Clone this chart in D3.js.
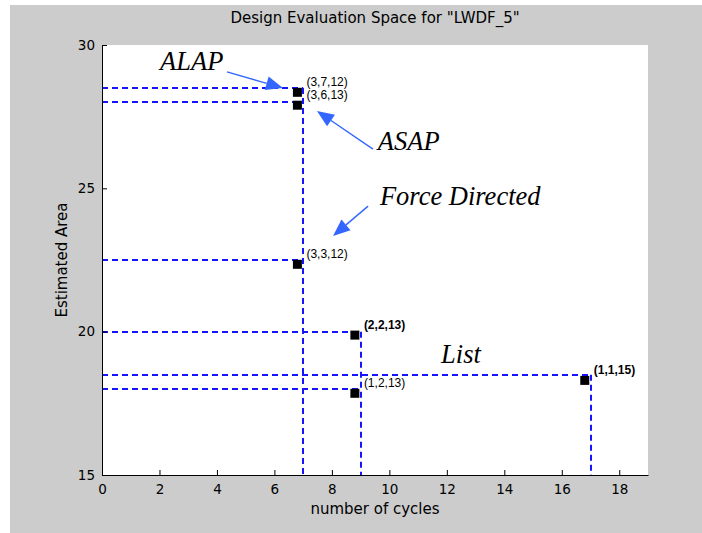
<!DOCTYPE html>
<html>
<head>
<meta charset="utf-8">
<script src="https://cdn.jsdelivr.net/npm/d3@7"></script>
<style>
  html, body { margin: 0; padding: 0; background: #ffffff; }
  svg { display: block; }
  text { font-family: "DejaVu Sans", "Liberation Sans", Arial, sans-serif; }
  .note { font-family: "Liberation Serif", "DejaVu Serif", serif; font-style: italic; }
  .ptlabel { font-family: "Liberation Sans", Arial, sans-serif; }
</style>
</head>
<body>
<svg id="chart" width="702" height="533"></svg>
<script>
// Design points: cycles vs. estimated area, with (adders, multipliers, registers) labels
const cycles = [6.8, 6.8, 6.8, 8.8, 8.8, 16.8];
const areas  = [28.35, 27.9, 22.35, 19.88, 17.85, 18.3];
const pointLabels = ["(3,7,12)", "(3,6,13)", "(3,3,12)", "(2,2,13)", "(1,2,13)", "(1,1,15)"];
const pointBold   = [false, false, false, true, false, true];

// Dashed guide lines: horizontal [area, cycles reached], vertical [cycles, area reached]
const hGuideArea   = [28.5, 28, 22.5, 20, 18.5, 18];
const hGuideCycles = [7, 7, 7, 9, 17, 9];
const vGuideCycles = [7, 9, 17];
const vGuideArea   = [28.5, 20, 18.5];

// Scheduler names and their arrows (data units)
const noteText = ["ALAP", "ASAP", "Force Directed", "List"];
const noteX    = [2.02, 9.6, 9.67, 11.8];
const noteY    = [29.13, 26.34, 24.42, 18.91];
const arrowFromX = [4.35, 9.43, 9.26];
const arrowFromY = [29.06, 26.37, 24.38];
const arrowToX   = [6.3, 7.48, 8.04];
const arrowToY   = [28.5, 27.7, 23.34];

const xTicks = [0, 2, 4, 6, 8, 10, 12, 14, 16, 18];
const yTicks = [15, 20, 25, 30];

const svg = d3.select("#chart");
const W = 702, H = 533;
const plot = { left: 102, right: 648, top: 45, bottom: 475 };

// Figure background
svg.append("rect").attr("x", 10).attr("y", 5).attr("width", W - 10).attr("height", H - 5)
  .attr("fill", "#cccccc");
svg.append("rect").attr("x", plot.left).attr("y", plot.top)
  .attr("width", plot.right - plot.left).attr("height", plot.bottom - plot.top)
  .attr("fill", "#ffffff");

const x = d3.scaleLinear().domain([0, 19]).range([plot.left, plot.right]);
const y = d3.scaleLinear().domain([15, 30]).range([plot.bottom, plot.top]);

// Guides
const guides = svg.append("g").attr("stroke", "#1414ff").attr("fill", "none")
  .attr("stroke-dasharray", "6,4").attr("stroke-width", 1.8);
hGuideArea.forEach((a, i) => {
  guides.append("line").attr("x1", x(0)).attr("x2", x(hGuideCycles[i]))
    .attr("y1", Math.round(y(a))).attr("y2", Math.round(y(a)));
});
vGuideCycles.forEach((c, i) => {
  guides.append("line").attr("x1", Math.round(x(c))).attr("x2", Math.round(x(c)))
    .attr("y1", y(vGuideArea[i])).attr("y2", y(15)).attr("stroke-width", 2);
});

// Axes
const xAxis = d3.axisBottom(x).tickValues(xTicks).tickSize(-5).tickPadding(9).tickSizeOuter(0);
const yAxis = d3.axisLeft(y).tickValues(yTicks).tickSize(-5).tickPadding(7).tickSizeOuter(0);
const gx = svg.append("g").attr("transform", `translate(0,${plot.bottom})`).call(xAxis);
const gy = svg.append("g").attr("transform", `translate(${plot.left},0)`).call(yAxis);
[gx, gy].forEach(g => {
  g.attr("font-family", null).attr("font-size", null);
  g.select(".domain").attr("stroke", "#000");
  g.selectAll(".tick line").attr("stroke", "#000");
  g.selectAll(".tick text").attr("fill", "#000").style("font-size", "13.5px");
});

// Markers and labels
const pts = svg.append("g");
cycles.forEach((c, i) => {
  pts.append("rect").attr("x", x(c) - 4.5).attr("y", y(areas[i]) - 4.5)
    .attr("width", 9).attr("height", 9).attr("fill", "#000");
  pts.append("text").attr("class", "ptlabel").attr("x", x(c) + 9).attr("y", y(areas[i]) - 6)
    .style("font-size", "12px").style("font-weight", pointBold[i] ? "bold" : "normal")
    .attr("fill", "#000").text(pointLabels[i]);
});

// Arrows
const arrows = svg.append("g");
arrowFromX.forEach((fx, i) => {
  const x1 = x(fx), y1 = y(arrowFromY[i]), x2 = x(arrowToX[i]), y2 = y(arrowToY[i]);
  const ang = Math.atan2(y2 - y1, x2 - x1);
  const len = 17, half = 7;
  const bx = x2 - len * Math.cos(ang), by = y2 - len * Math.sin(ang);
  arrows.append("line").attr("x1", x1).attr("y1", y1).attr("x2", bx).attr("y2", by)
    .attr("stroke", "#3366ff").attr("stroke-width", 1.4);
  const px = -Math.sin(ang) * half, py = Math.cos(ang) * half;
  arrows.append("path")
    .attr("d", `M${x2},${y2}L${bx + px},${by + py}L${bx - px},${by - py}Z`)
    .attr("fill", "#3366ff");
});

// Scheduler names
noteText.forEach((t, i) => {
  svg.append("text").attr("class", "note").attr("x", x(noteX[i])).attr("y", y(noteY[i]))
    .style("font-size", "26.5px").attr("fill", "#000").text(t);
});

// Titles
svg.append("text").attr("x", (plot.left + plot.right) / 2).attr("y", 23)
  .attr("text-anchor", "middle").style("font-size", "15px").attr("fill", "#000")
  .text('Design Evaluation Space for "LWDF_5"');
svg.append("text").attr("x", (plot.left + plot.right) / 2).attr("y", 514)
  .attr("text-anchor", "middle").style("font-size", "15px").attr("fill", "#000")
  .text("number of cycles");
svg.append("text")
  .attr("transform", `translate(67,${(plot.top + plot.bottom) / 2}) rotate(-90)`)
  .attr("text-anchor", "middle").style("font-size", "15px").attr("fill", "#000")
  .text("Estimated Area");
</script>
</body>
</html>
